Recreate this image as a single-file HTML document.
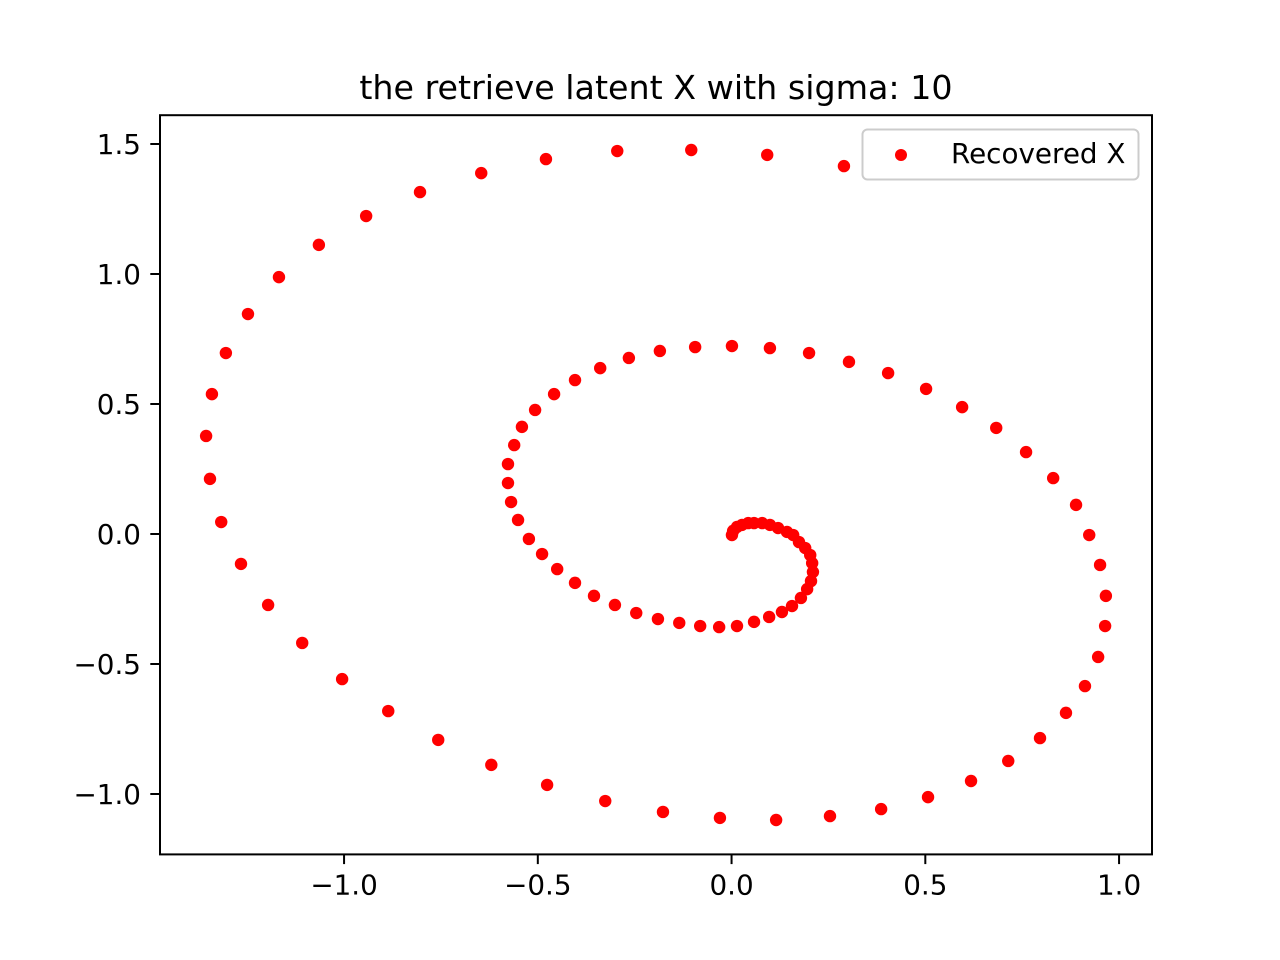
<!DOCTYPE html>
<html><head><meta charset="utf-8"><style>
html,body{margin:0;padding:0;background:#fff;}
svg{display:block;font-family:"DejaVu Sans","Liberation Sans",sans-serif;}
</style></head><body>
<svg id="chart" width="1280" height="960" viewBox="0 0 1280 960" xmlns="http://www.w3.org/2000/svg">
<rect x="0" y="0" width="1280" height="960" fill="#fff"/>
<text x="656" y="99" font-size="33.3" text-anchor="middle">the retrieve latent X with sigma: 10</text>
<g id="points"></g>
<g id="axes"></g>
<rect x="160" y="115.2" width="992" height="739.2" fill="none" stroke="#000" stroke-width="2"/>
<g>
<rect x="862.5" y="129.5" width="276" height="50" rx="5" fill="#fff" fill-opacity="0.8" stroke="#cccccc" stroke-width="2"/>
<circle cx="901" cy="155" r="6" fill="#ff0000"/>
<text x="951" y="163" font-size="27.8">Recovered X</text>
</g>
</svg>
<script>
const xValues = [0.001,0.004,0.014,0.027,0.043,0.058,0.079,0.099,0.12,0.143,0.159,0.174,0.19,0.203,0.208,0.21,0.205,0.195,0.179,0.156,0.13,0.097,0.058,0.014,-0.032,-0.081,-0.135,-0.19,-0.246,-0.301,-0.355,-0.404,-0.45,-0.489,-0.523,-0.551,-0.569,-0.577,-0.577,-0.561,-0.541,-0.507,-0.458,-0.404,-0.339,-0.265,-0.185,-0.094,0.001,0.099,0.2,0.303,0.404,0.502,0.595,0.683,0.76,0.83,0.889,0.923,0.951,0.966,0.964,0.946,0.912,0.863,0.796,0.714,0.618,0.507,0.386,0.254,0.115,-0.03,-0.177,-0.326,-0.476,-0.62,-0.757,-0.886,-1.005,-1.108,-1.196,-1.266,-1.317,-1.346,-1.356,-1.341,-1.305,-1.248,-1.168,-1.065,-0.943,-0.804,-0.646,-0.479,-0.295,-0.104,0.092,0.29];
const yValues = [-0.004,0.012,0.027,0.035,0.042,0.042,0.042,0.035,0.023,0.008,-0.004,-0.031,-0.054,-0.081,-0.112,-0.146,-0.181,-0.212,-0.246,-0.277,-0.3,-0.319,-0.338,-0.354,-0.358,-0.354,-0.342,-0.327,-0.304,-0.273,-0.238,-0.188,-0.135,-0.077,-0.019,0.054,0.123,0.196,0.269,0.342,0.412,0.477,0.538,0.592,0.638,0.677,0.704,0.719,0.723,0.715,0.696,0.662,0.619,0.558,0.488,0.408,0.315,0.215,0.112,-0.004,-0.119,-0.238,-0.354,-0.473,-0.585,-0.688,-0.785,-0.873,-0.95,-1.012,-1.058,-1.085,-1.1,-1.092,-1.069,-1.027,-0.965,-0.888,-0.792,-0.681,-0.558,-0.419,-0.273,-0.115,0.046,0.212,0.377,0.538,0.696,0.846,0.988,1.112,1.223,1.315,1.388,1.442,1.473,1.477,1.458,1.415];
const xTicks = [-1.0,-0.5,0.0,0.5,1.0];
const xTickLabels = ["\u22121.0","\u22120.5","0.0","0.5","1.0"];
const yTicks = [-1.0,-0.5,0.0,0.5,1.0,1.5];
const yTickLabels = ["\u22121.0","\u22120.5","0.0","0.5","1.0","1.5"];

const NS = "http://www.w3.org/2000/svg";
const L=160,R=1152,T=115.2,B=854.4;
const XMIN=-1.475,XMAX=1.085,YMIN=-1.2323,YMAX=1.6108;
function sx(v){return L+(v-XMIN)/(XMAX-XMIN)*(R-L);}
function sy(v){return B-(v-YMIN)/(YMAX-YMIN)*(B-T);}
const pts=document.getElementById('points');
for(let i=0;i<xValues.length;i++){
  const c=document.createElementNS(NS,'circle');
  c.setAttribute('cx',sx(xValues[i]));c.setAttribute('cy',sy(yValues[i]));
  c.setAttribute('r',6.2);c.setAttribute('fill','#ff0000');
  
  
  pts.appendChild(c);
}
const ax=document.getElementById('axes');
xTicks.forEach((t,i)=>{
  const x=sx(t);
  const ln=document.createElementNS(NS,'line');
  ln.setAttribute('x1',x);ln.setAttribute('x2',x);ln.setAttribute('y1',B);ln.setAttribute('y2',B+9.7);
  ln.setAttribute('stroke','#000');ln.setAttribute('stroke-width',2);
  
  
  ax.appendChild(ln);
  const tx=document.createElementNS(NS,'text');
  tx.setAttribute('x',x);tx.setAttribute('y',B+40);tx.setAttribute('font-size','27.8');tx.setAttribute('text-anchor','middle');
  tx.textContent=xTickLabels[i];
  
  
  ax.appendChild(tx);
});
yTicks.forEach((t,i)=>{
  const y=sy(t);
  const ln=document.createElementNS(NS,'line');
  ln.setAttribute('x1',L-9.7);ln.setAttribute('x2',L);ln.setAttribute('y1',y);ln.setAttribute('y2',y);
  ln.setAttribute('stroke','#000');ln.setAttribute('stroke-width',2);
  
  
  ax.appendChild(ln);
  const tx=document.createElementNS(NS,'text');
  tx.setAttribute('x',L-19);tx.setAttribute('y',y+10);tx.setAttribute('font-size','27.8');tx.setAttribute('text-anchor','end');
  tx.textContent=yTickLabels[i];
  
  
  ax.appendChild(tx);
});
</script>
</body></html>
